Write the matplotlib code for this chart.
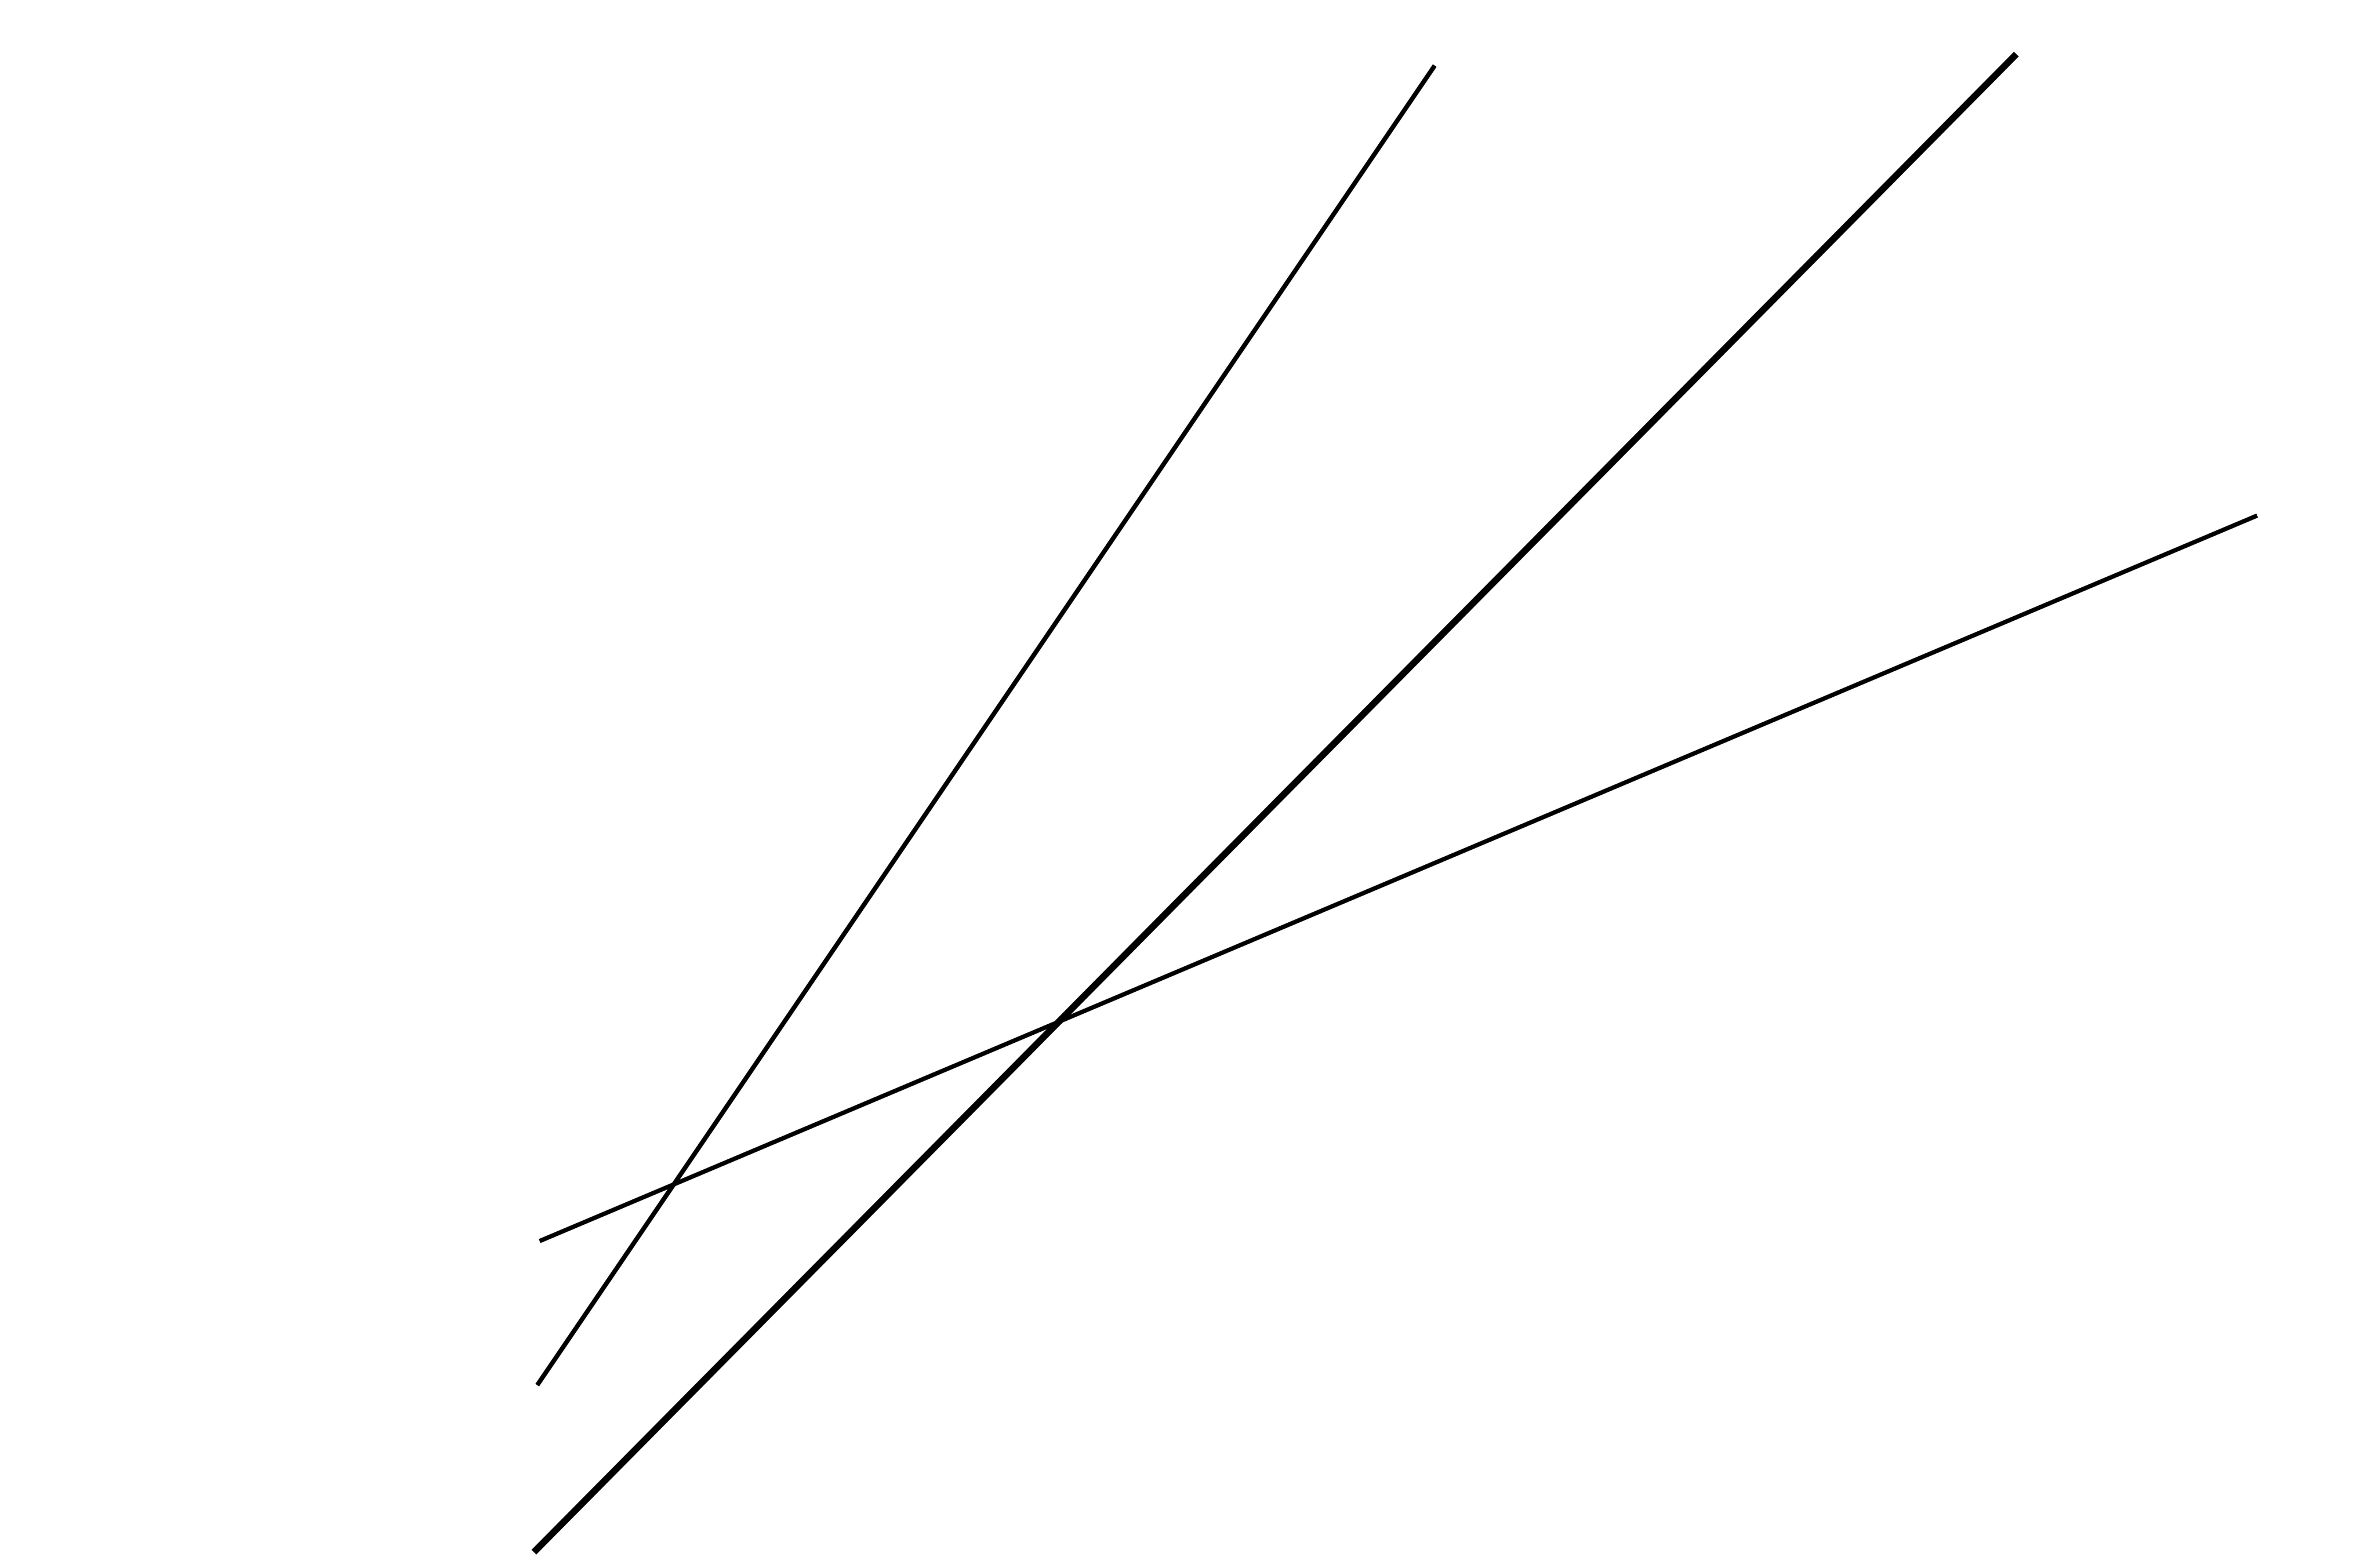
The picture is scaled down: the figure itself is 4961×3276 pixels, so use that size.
import matplotlib
matplotlib.use("Agg")
import matplotlib.pyplot as plt

# Data (in percent of the figure frame)
steep_x = [22.62, 60.41]
steep_y = [11.66, 95.82]

diag_x = [22.48, 84.90]
diag_y = [1.01, 96.55]

flat_x = [22.72, 95.04]
flat_y = [20.85, 67.12]

fig = plt.figure(figsize=(4961 / 300, 3276 / 300), dpi=300)
ax = fig.add_axes([0, 0, 1, 1])
ax.set_xlim(0, 100)
ax.set_ylim(0, 100)
ax.axis("off")

ax.plot(steep_x, steep_y, color="black", lw=2.3, solid_capstyle="butt")
ax.plot(diag_x, diag_y, color="black", lw=3.4, solid_capstyle="butt")
ax.plot(flat_x, flat_y, color="black", lw=2.2, solid_capstyle="butt")

fig.savefig("out.png", dpi=300, facecolor="white")
